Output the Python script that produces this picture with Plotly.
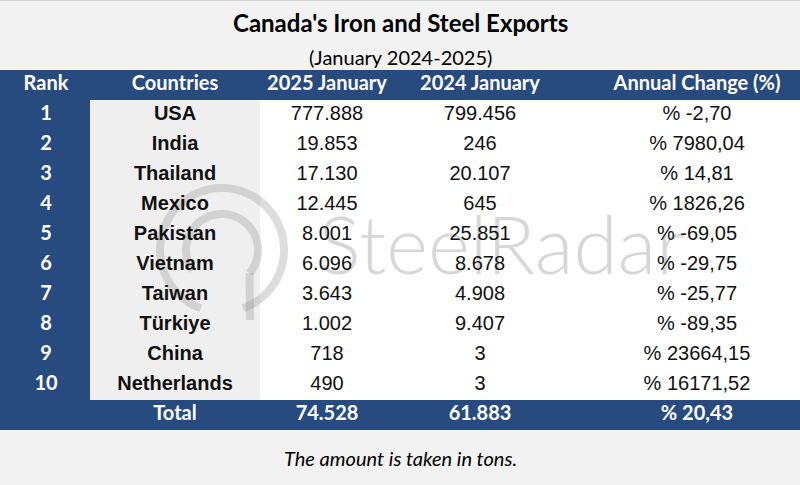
import numpy as np
import plotly.graph_objects as go

# ---------------- data ----------------
TITLE = "Canada's Iron and Steel Exports"
SUBTITLE = "(January 2024-2025)"
FOOTNOTE = "The amount is taken in tons."
WATERMARK = "SteelRadar"

HEADERS = ["Rank", "Countries", "2025 January", "2024 January", "Annual Change (%)"]
RANKS = [1, 2, 3, 4, 5, 6, 7, 8, 9, 10]
COUNTRIES = ["USA", "India", "Thailand", "Mexico", "Pakistan",
             "Vietnam", "Taiwan", "Türkiye", "China", "Netherlands"]
JAN_2025 = [777888, 19853, 17130, 12445, 8001, 6096, 3643, 1002, 718, 490]
JAN_2024 = [799456, 246, 20107, 645, 25851, 8678, 4908, 9407, 3, 3]
CHANGE = [-2.70, 7980.04, 14.81, 1826.26, -69.05, -29.75, -25.77, -89.35, 23664.15, 16171.52]
TOTAL_LABEL = "Total"
TOTAL_2025 = 74528
TOTAL_2024 = 61883
TOTAL_CHANGE = 20.43


def fmt_tons(v):
    return f"{v:,}".replace(",", ".")


def fmt_pct(v):
    return "% " + f"{v:.2f}".replace(".", ",")


# ---------------- layout geometry ----------------
W, H = 800, 485
COLX = [46, 175, 327, 480, 697]          # column centres (px)
ROW0, ROWH = 85, 30                        # header row centre, row height (px)


def prow(p):
    """pixel y -> row coordinate of the y axis"""
    return (p - ROW0) / ROWH


BLUE = "#274b7f"
PAPER = "#f2f2f2"
COUNTRY_BG = "#efefef"
TEXT = "#111111"

HEAD_FONT = "Lato, 'Open Sans', sans-serif"
NUM_FONT = "'Liberation Sans', Arial, sans-serif"

rows = list(range(1, len(COUNTRIES) + 1))
total_row = len(COUNTRIES) + 1

fig = go.Figure()

# watermark text (bottom-most trace)
fig.add_trace(go.Scatter(
    x=[318], y=[prow(254)], text=[WATERMARK], mode="text",
    textposition="middle right",
    textfont=dict(family=HEAD_FONT, size=80, weight=300, color="rgba(150,150,150,0.38)"),
    hoverinfo="skip", showlegend=False, cliponaxis=False))

# header row
fig.add_trace(go.Scatter(
    x=COLX, y=[0] * len(HEADERS), text=[f"<b>{h}</b>" for h in HEADERS],
    mode="text", textposition="middle center",
    textfont=dict(family=HEAD_FONT, size=20, color="white"),
    hoverinfo="skip", showlegend=False, cliponaxis=False))

# rank column
fig.add_trace(go.Scatter(
    x=[COLX[0]] * len(RANKS), y=rows, text=[f"<b>{r}</b>" for r in RANKS],
    mode="text", textposition="middle center",
    textfont=dict(family=HEAD_FONT, size=20, color="white"),
    hoverinfo="skip", showlegend=False, cliponaxis=False))

# countries
fig.add_trace(go.Scatter(
    x=[COLX[1]] * len(COUNTRIES), y=rows, text=[f"<b>{c}</b>" for c in COUNTRIES],
    mode="text", textposition="middle center",
    textfont=dict(family=NUM_FONT, size=20, color=TEXT),
    hoverinfo="skip", showlegend=False, cliponaxis=False))

# numeric columns
for cx, vals in [(COLX[2], [fmt_tons(v) for v in JAN_2025]),
                 (COLX[3], [fmt_tons(v) for v in JAN_2024]),
                 (COLX[4], [fmt_pct(v) for v in CHANGE])]:
    fig.add_trace(go.Scatter(
        x=[cx] * len(vals), y=rows, text=vals,
        mode="text", textposition="middle center",
        textfont=dict(family=NUM_FONT, size=20, color=TEXT),
        hoverinfo="skip", showlegend=False, cliponaxis=False))

# total row
total_texts = [TOTAL_LABEL, fmt_tons(TOTAL_2025), fmt_tons(TOTAL_2024), fmt_pct(TOTAL_CHANGE)]
fig.add_trace(go.Scatter(
    x=COLX[1:], y=[total_row] * 4, text=[f"<b>{t}</b>" for t in total_texts],
    mode="text", textposition="middle center",
    textfont=dict(family=HEAD_FONT, size=20, color="white"),
    hoverinfo="skip", showlegend=False, cliponaxis=False))

# ---------------- shapes ----------------
shapes = []


def rect(x0, x1, p0, p1, color, layer="below"):
    shapes.append(dict(type="rect", xref="x", yref="y", x0=x0, x1=x1,
                       y0=prow(p0), y1=prow(p1), fillcolor=color,
                       line=dict(width=0), layer=layer))


rect(0, W, 70, 100, BLUE)                 # header band
rect(0, 90, 100, 400, BLUE)               # rank column
rect(90, 260, 100, 400, COUNTRY_BG)       # countries column
rect(260, W, 100, 400, "white")           # value area
rect(0, W, 400, 430, BLUE)                # total band

# top border line
shapes.append(dict(type="line", xref="x", yref="y", x0=0, x1=W,
                   y0=prow(0.5), y1=prow(0.5),
                   line=dict(color="#d0d0d0", width=1), layer="below"))


def arc_path(cx, cy, r, a0, a1, n=80):
    t = np.radians(np.linspace(a0, a1, n))
    xs = cx + r * np.cos(t)
    ys = cy - r * np.sin(t)
    pts = [f"{x:.2f},{prow(y):.4f}" for x, y in zip(xs, ys)]
    return "M" + " L".join(pts)


WM = "rgba(150,150,150,0.32)"
for r, a0, a1 in [(62, -70, 250), (36, -40, 215)]:
    shapes.append(dict(type="path", xref="x", yref="y",
                       path=arc_path(222, 250, r, a0, a1),
                       line=dict(color=WM, width=8), layer="between"))
# tail of the logo
shapes.append(dict(type="path", xref="x", yref="y",
                   path=f"M{222 + 36 * np.cos(np.radians(-40)):.2f},{prow(250 + 36 * np.sin(np.radians(40))):.4f} "
                        f"L{250:.2f},{prow(320):.4f}",
                   line=dict(color=WM, width=8), layer="between"))

# ---------------- annotations ----------------
annotations = [
    dict(x=W / 2, y=prow(22), xref="x", yref="y", text=f"<b>{TITLE}</b>",
         showarrow=False, font=dict(family=HEAD_FONT, size=24, color="#000000"),
         xanchor="center", yanchor="middle"),
    dict(x=W / 2, y=prow(57), xref="x", yref="y", text=SUBTITLE,
         showarrow=False, font=dict(family=HEAD_FONT, size=20, color="#000000"),
         xanchor="center", yanchor="middle"),
    dict(x=W / 2, y=prow(458), xref="x", yref="y", text=f"<i>{FOOTNOTE}</i>",
         showarrow=False, font=dict(family=HEAD_FONT, size=20, color="#000000"),
         xanchor="center", yanchor="middle"),
]

fig.update_layout(
    width=W, height=H,
    margin=dict(l=0, r=0, t=0, b=0),
    paper_bgcolor=PAPER, plot_bgcolor="rgba(0,0,0,0)",
    xaxis=dict(range=[0, W], visible=False, fixedrange=True),
    yaxis=dict(range=[prow(H), prow(0)], visible=False, fixedrange=True),
    shapes=shapes, annotations=annotations,
    showlegend=False,
)

fig.write_html(
    "out.html",
    config={"displayModeBar": False},
    post_script="document.body.style.margin='0';document.body.style.overflow='hidden';",
)
